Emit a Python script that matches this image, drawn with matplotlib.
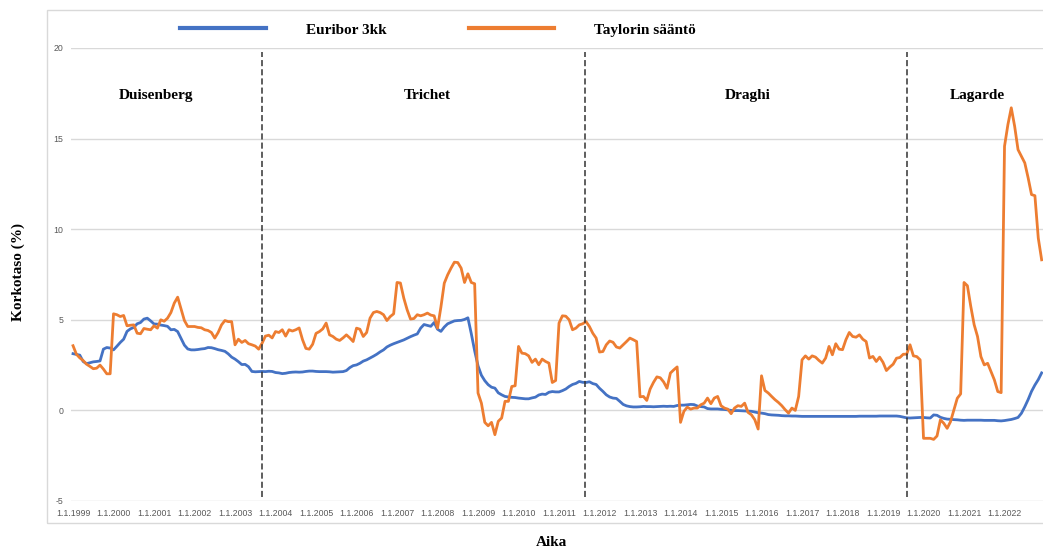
import matplotlib
matplotlib.use('Agg')
import matplotlib.pyplot as plt
from matplotlib.patches import Rectangle

plt.rcParams['axes.unicode_minus'] = False

# --- monthly series, Jan 1999 - Dec 2022 (one row per year)
euribor_3kk = [
    3.13, 3.09, 3.05, 2.70, 2.58, 2.63, 2.68, 2.70, 2.73, 3.38, 3.47, 3.44,
    3.34, 3.54, 3.75, 3.93, 4.36, 4.50, 4.58, 4.78, 4.85, 5.04, 5.09, 4.94,
    4.77, 4.76, 4.71, 4.68, 4.64, 4.45, 4.47, 4.35, 3.98, 3.60, 3.39, 3.34,
    3.34, 3.36, 3.39, 3.41, 3.47, 3.46, 3.41, 3.35, 3.31, 3.26, 3.12, 2.94,
    2.83, 2.69, 2.53, 2.54, 2.41, 2.15, 2.13, 2.14, 2.15, 2.14, 2.16, 2.15,
    2.09, 2.07, 2.03, 2.05, 2.09, 2.11, 2.12, 2.11, 2.12, 2.15, 2.17, 2.17,
    2.15, 2.14, 2.14, 2.14, 2.13, 2.11, 2.12, 2.13, 2.14, 2.20, 2.36, 2.47,
    2.51, 2.60, 2.72, 2.79, 2.89, 2.99, 3.10, 3.23, 3.34, 3.50, 3.60, 3.68,
    3.75, 3.82, 3.89, 3.98, 4.07, 4.15, 4.22, 4.54, 4.74, 4.69, 4.64, 4.85,
    4.48, 4.36, 4.60, 4.78, 4.86, 4.94, 4.96, 4.97, 5.02, 5.11, 4.24, 3.29,
    2.46, 1.94, 1.64, 1.42, 1.28, 1.23, 0.97, 0.86, 0.77, 0.74, 0.72, 0.71,
    0.68, 0.66, 0.64, 0.64, 0.69, 0.73, 0.85, 0.90, 0.88, 1.00, 1.04, 1.02,
    1.02, 1.09, 1.18, 1.32, 1.43, 1.49, 1.60, 1.55, 1.54, 1.58, 1.48, 1.43,
    1.22, 1.05, 0.86, 0.74, 0.68, 0.66, 0.50, 0.33, 0.25, 0.21, 0.19, 0.19,
    0.20, 0.22, 0.21, 0.21, 0.20, 0.21, 0.22, 0.23, 0.22, 0.23, 0.22, 0.27,
    0.29, 0.29, 0.31, 0.33, 0.32, 0.24, 0.21, 0.19, 0.10, 0.08, 0.08, 0.08,
    0.06, 0.05, 0.03, 0.00, -0.01, -0.01, -0.02, -0.03, -0.04, -0.05, -0.09, -0.13,
    -0.15, -0.18, -0.23, -0.25, -0.26, -0.27, -0.29, -0.30, -0.30, -0.31, -0.31, -0.32,
    -0.33, -0.33, -0.33, -0.33, -0.33, -0.33, -0.33, -0.33, -0.33, -0.33, -0.33, -0.33,
    -0.33, -0.33, -0.33, -0.33, -0.33, -0.32, -0.32, -0.32, -0.32, -0.32, -0.32, -0.31,
    -0.31, -0.31, -0.31, -0.31, -0.31, -0.33, -0.37, -0.41, -0.42, -0.41, -0.40, -0.39,
    -0.39, -0.41, -0.42, -0.25, -0.27, -0.38, -0.44, -0.48, -0.49, -0.51, -0.52, -0.54,
    -0.55, -0.54, -0.54, -0.54, -0.54, -0.54, -0.55, -0.55, -0.55, -0.55, -0.57, -0.58,
    -0.56, -0.53, -0.50, -0.45, -0.39, -0.16, 0.20, 0.60, 1.05, 1.40, 1.70, 2.07,
]

taylor_rule = [
    3.57, 3.10, 2.90, 2.75, 2.55, 2.43, 2.30, 2.33, 2.50, 2.28, 2.02, 2.02,
    5.33, 5.28, 5.18, 5.24, 4.67, 4.70, 4.72, 4.26, 4.23, 4.52, 4.48, 4.45,
    4.67, 4.54, 5.00, 4.92, 5.09, 5.40, 5.92, 6.25, 5.60, 4.96, 4.63, 4.63,
    4.63, 4.58, 4.56, 4.45, 4.41, 4.30, 3.99, 4.30, 4.72, 4.96, 4.90, 4.90,
    3.62, 3.93, 3.75, 3.86, 3.68, 3.62, 3.55, 3.38, 3.70, 4.10, 4.15, 4.00,
    4.35, 4.30, 4.45, 4.10, 4.45, 4.38, 4.45, 4.55, 3.90, 3.42, 3.38, 3.65,
    4.25, 4.35, 4.50, 4.82, 4.17, 4.08, 3.93, 3.86, 4.00, 4.17, 4.00, 3.80,
    4.54, 4.48, 4.08, 4.30, 5.09, 5.40, 5.46, 5.40, 5.28, 4.96, 5.18, 5.33,
    7.06, 7.03, 6.20, 5.55, 5.04, 5.07, 5.28, 5.22, 5.28, 5.37, 5.26, 5.22,
    4.54, 5.70, 7.02, 7.48, 7.85, 8.18, 8.16, 7.85, 7.06, 7.54, 7.06, 6.99,
    0.96, 0.40, -0.66, -0.85, -0.66, -1.34, -0.60, -0.42, 0.50, 0.50, 1.32, 1.36,
    3.53, 3.16, 3.13, 3.01, 2.65, 2.83, 2.52, 2.83, 2.70, 2.61, 1.54, 1.65,
    4.82, 5.22, 5.20, 5.00, 4.45, 4.54, 4.72, 4.78, 4.90, 4.63, 4.26, 3.99,
    3.22, 3.25, 3.62, 3.83, 3.76, 3.50, 3.44, 3.62, 3.80, 3.99, 3.90, 3.80,
    0.75, 0.77, 0.55, 1.18, 1.55, 1.85, 1.80, 1.57, 1.22, 2.06, 2.24, 2.40,
    -0.66, -0.05, 0.18, 0.07, 0.13, 0.13, 0.31, 0.40, 0.68, 0.37, 0.68, 0.77,
    0.26, 0.13, 0.07, -0.18, 0.13, 0.26, 0.22, 0.40, -0.11, -0.24, -0.51, -1.03,
    1.91, 1.10, 0.96, 0.77, 0.59, 0.44, 0.26, 0.04, -0.15, 0.13, 0.00, 0.77,
    2.79, 3.01, 2.83, 3.01, 2.94, 2.76, 2.61, 2.89, 3.53, 3.07, 3.68, 3.38,
    3.35, 3.90, 4.30, 4.08, 4.04, 4.17, 3.93, 3.80, 2.89, 2.98, 2.70, 2.94,
    2.65, 2.20, 2.39, 2.55, 2.88, 2.92, 3.10, 3.10, 3.62, 3.01, 2.97, 2.79,
    -1.54, -1.54, -1.54, -1.60, -1.41, -0.52, -0.71, -0.99, -0.62, 0.03, 0.67, 0.91,
    7.06, 6.88, 5.74, 4.73, 4.08, 2.97, 2.51, 2.60, 2.14, 1.68, 1.04, 0.98,
    14.58, 15.77, 16.70, 15.68, 14.39, 14.02, 13.66, 12.83, 11.91, 11.85, 9.51, 8.31,
]

years = list(range(1999, 2023))
tick_labels = [f"1.1.{y}" for y in years]

# ECB presidents: term boundaries (month index) and label positions
term_breaks = [56.1, 151.7, 247.2]
presidents = ["Duisenberg", "Trichet", "Draghi", "Lagarde"]
president_x = [24.6, 105, 200, 268]

BLUE = '#4472C4'
ORANGE = '#ED7D31'
GRID = '#d9d9d9'
TICK = '#595959'
SERIF = 'Liberation Serif'

months = list(range(len(euribor_3kk)))

fig = plt.figure(figsize=(10.43, 5.48), dpi=100)
fig.patch.set_facecolor('white')
ax = fig.add_axes([71 / 1043, 47 / 548, (1043 - 71) / 1043, 453 / 548])

ax.plot(months, euribor_3kk, color=BLUE, lw=2.0, label='Euribor 3kk', solid_joinstyle='round')
ax.plot(months, taylor_rule, color=ORANGE, lw=2.0, label='Taylorin sääntö', solid_joinstyle='round')

for xb in term_breaks:
    ax.vlines(xb, -4.8, 19.8, colors='#333333', linestyles=(0, (4, 2)), lw=1.1)

for name, xp in zip(presidents, president_x):
    ax.text(xp, 17.4, name, ha='center', va='center', family=SERIF,
            weight='bold', fontsize=11, color='black')

ax.set_xlim(-0.6, 287.4)
ax.set_ylim(-5, 20)
ax.set_yticks([-5, 0, 5, 10, 15, 20])
ax.set_xticks(list(range(0, 288, 12)))
ax.set_xticklabels(tick_labels)
ax.grid(axis='y', color=GRID, lw=1)
ax.set_axisbelow(True)
for s in ax.spines.values():
    s.set_visible(False)
ax.tick_params(length=0, labelsize=6.3, labelcolor=TICK, pad=5.5)
for lab in ax.get_xticklabels() + ax.get_yticklabels():
    lab.set_family('Liberation Sans')

# legend across the top
leg = fig.legend(loc='center', bbox_to_anchor=(0.42, 1 - 30 / 548), ncol=2,
                 frameon=False, handlelength=5.6, handletextpad=2.6,
                 columnspacing=5.4, prop={'family': SERIF, 'weight': 'bold', 'size': 11})
for ln in leg.get_lines():
    ln.set_linewidth(3)

fig.text(18 / 1043, 1 - 272 / 548, 'Korkotaso (%)', rotation=90, ha='center', va='center',
         family=SERIF, weight='bold', fontsize=11)
fig.text(551 / 1043, 1 - 542 / 548, 'Aika', ha='center', va='center',
         family=SERIF, weight='bold', fontsize=11)

# light frame round the chart area
fig.add_artist(Rectangle((47 / 1043, 1 - 523 / 548), 1.2, 513 / 548,
                         transform=fig.transFigure, fill=False, edgecolor=GRID, lw=1))

fig.savefig('out.png', dpi=100)
plt.close(fig)
